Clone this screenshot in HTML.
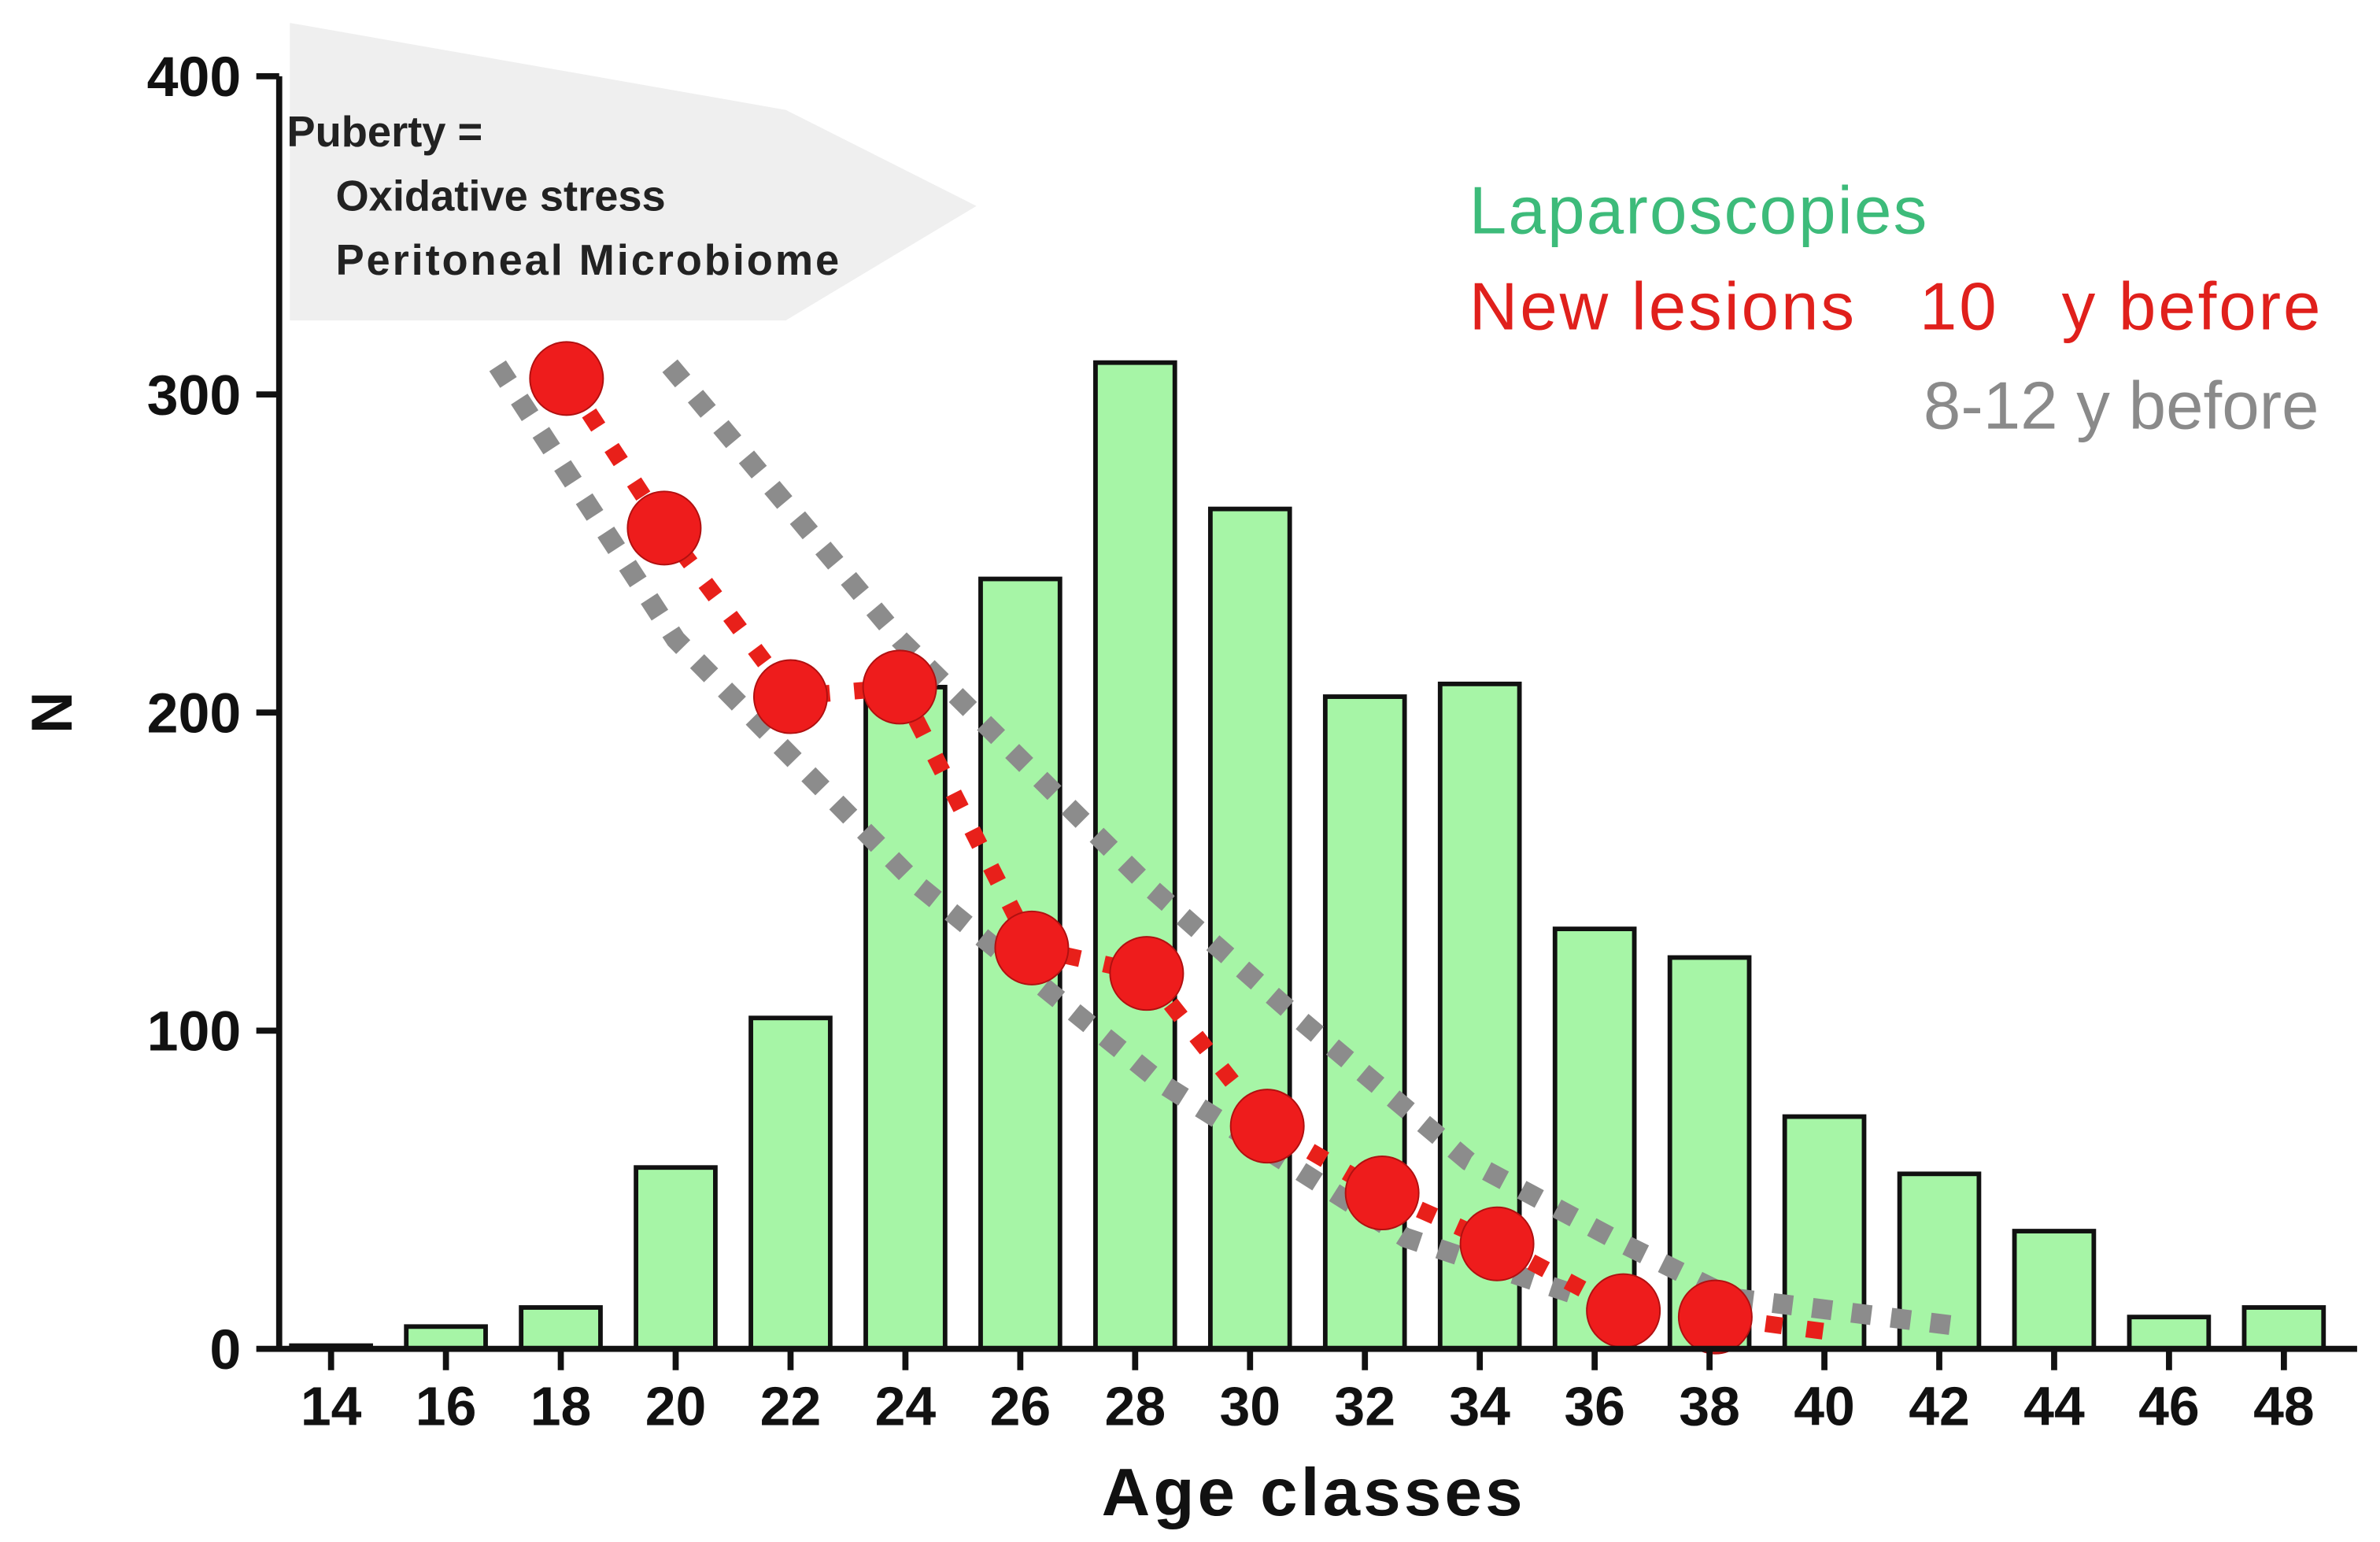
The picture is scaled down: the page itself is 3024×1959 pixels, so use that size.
<!DOCTYPE html>
<html><head><meta charset="utf-8"><style>
html,body{margin:0;padding:0;background:#fff}
svg{display:block}
text{font-family:"Liberation Sans",Arial,sans-serif}
</style></head><body>
<svg id="chart" width="3024" height="1959" viewBox="0 0 1560 1010.6" preserveAspectRatio="none" xmlns="http://www.w3.org/2000/svg">
<polygon points="190,15 515,72 640,135 515,210 190,210" fill="#efefef"/>
<text x="188" y="96" font-size="28" font-weight="bold" fill="#222">Puberty =</text>
<text x="220" y="138" font-size="28" font-weight="bold" fill="#222">Oxidative stress</text>
<text x="220" y="180" font-size="28" font-weight="bold" fill="#222" textLength="330">Peritoneal Microbiome</text>
<g id="bars"></g>
<g id="lines"></g>
<g id="axes"></g>
<text x="963" y="153" font-size="44" fill="#3dbb7a" textLength="300">Laparoscopies</text>
<text x="963" y="216" font-size="44" fill="#e0201c" xml:space="preserve" textLength="558">New lesions   10   y before</text>
<text x="1520" y="281" font-size="44" fill="#8a8a8a" text-anchor="end">8-12 y before</text>
<text x="860" y="993" font-size="44" font-weight="bold" text-anchor="middle" fill="#111" textLength="276">Age classes</text>
<text x="47" y="467" font-size="38" font-weight="bold" text-anchor="middle" fill="#111" transform="rotate(-90 47 467)">N</text>
</svg>
<script>
const categories=[14,16,18,20,22,24,26,28,30,32,34,36,38,40,42,44,46,48];
const laparoscopies=[1,7,13,57,104,208,242,310,264,205,209,132,123,73,55,37,10,13];
const lesionAges=[18.1,19.8,22,23.9,26.2,28.2,30.3,32.3,34.3,36.5,38.1];
const lesionValues=[305,258,205,208,126,118,70,49,33,12,10];
const lesionTailAge=[40.2];
const lesionTailValue=[5];
const upperAges=[19.9,23.9,28.2,30.9,33.8,36.5,38.4,42.4];
const upperValues=[309,223,146,103,59,33,16,7];
const lowerAges=[16.9,20,24.2,28.5,32.7,36.5];
const lowerValues=[309,223,146,83,35,12];
const yTicks=[0,100,200,300,400];

const NS="http://www.w3.org/2000/svg";
const x=a=>217+(a-14)*(1497-217)/34;
const y=v=>884-v*(884-50)/400;
function mk(tag,attrs,parent){const e=document.createElementNS(NS,tag);for(const k in attrs)e.setAttribute(k,attrs[k]);document.getElementById(parent).appendChild(e);return e;}

categories.forEach((c,i)=>{
  const r=mk('rect',{x:x(c)-26,y:y(laparoscopies[i]),width:52,height:y(0)-y(laparoscopies[i]),fill:'#a6f5a6',stroke:'#111','stroke-width':3},'bars');
  
  
});
function poly(ax,vals,name,color,w,dash){
  const p=mk('polyline',{points:ax.map((a,i)=>x(a)+','+y(vals[i])).join(' '),fill:'none',stroke:color,'stroke-width':w,'stroke-dasharray':dash},'lines');
  
  
}
poly(upperAges,upperValues,'upper-range-line','#8c8c8c',13,'13 13');
poly(lowerAges,lowerValues,'lower-range-line','#8c8c8c',13,'13 13');
poly(lesionAges.concat(lesionTailAge),lesionValues.concat(lesionTailValue),'new-lesions-line','#e8201a',11,'11 16');
lesionAges.forEach((a,i)=>{
  const c=mk('circle',{cx:x(a),cy:y(lesionValues[i]),r:24,fill:'#ee1c1c',stroke:'#b01010','stroke-width':1},'lines');
  
  
});
const ax=mk('path',{d:'M183,50 V884 H1545',fill:'none',stroke:'#111','stroke-width':4},'axes');


yTicks.forEach(t=>{
  const l=mk('line',{x1:168,x2:183,y1:y(t),y2:y(t),stroke:'#111','stroke-width':4},'axes');
  
  
  const tx=mk('text',{x:158,y:y(t)+13,'font-size':37,'font-weight':'bold','text-anchor':'end',fill:'#111'},'axes');
  tx.textContent=t;
  
  
});
categories.forEach(c=>{
  const l=mk('line',{x1:x(c),x2:x(c),y1:884,y2:898,stroke:'#111','stroke-width':4},'axes');
  
  
  const tx=mk('text',{x:x(c),y:934,'font-size':36,'font-weight':'bold','text-anchor':'middle',fill:'#111'},'axes');
  tx.textContent=c;
  
  
});
</script>
</body></html>
